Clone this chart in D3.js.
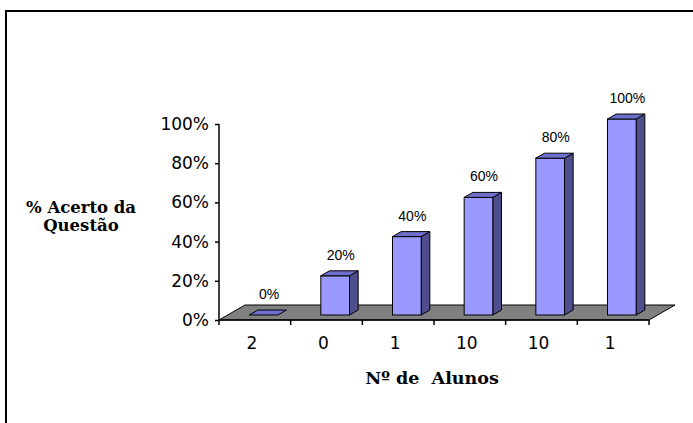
<!DOCTYPE html>
<html>
<head>
<meta charset="utf-8">
<script src="https://cdn.jsdelivr.net/npm/d3@7/dist/d3.min.js"></script>
<style>
  html, body { margin: 0; padding: 0; background: #fff; }
  svg { display: block; }
</style>
</head>
<body>
<svg id="chart" width="693" height="423"></svg>
<script>
// Question-hit rate per group of students
const categories = ["2", "0", "1", "10", "10", "1"];
const values = [0, 20, 40, 60, 80, 100];
const yTicks = [0, 20, 40, 60, 80, 100];
const yTitleLines = ["% Acerto da", "Questão"];
const xTitle = "Nº de  Alunos";

const W = 693, H = 423;
const svg = d3.select("#chart");

// Outer frame
svg.append("rect")
  .attr("x", 6).attr("y", 11).attr("width", 720).attr("height", 440)
  .attr("fill", "#fff").attr("stroke", "#000").attr("stroke-width", 2);

const x = d3.scaleBand().domain(d3.range(categories.length)).range([219, 649]).padding(0);
const y = d3.scaleLinear().domain([0, 100]).range([320, 124]);

// Depth of the 3D floor (oblique projection)
const DX = 26, DY = -15;
const barW = x.bandwidth() * 0.4;

// Floor
const x0 = x.range()[0], x1 = x.range()[1], yb = y(0);
svg.append("path")
  .attr("d", `M${x0},${yb}L${x1},${yb}L${x1 + DX},${yb + DY}L${x0 + DX},${yb + DY}Z`)
  .attr("fill", "#808080").attr("stroke", "#000").attr("stroke-width", 1);

// Bars sit in the middle third of the depth
const fdx = DX / 3, fdy = DY / 3;
const bars = svg.append("g");
categories.forEach((c, i) => {
  const v = values[i];
  const left = x(i) + x.bandwidth() / 2 - barW / 2 + fdx;
  const right = left + barW;
  const bottom = y(0) + fdy;
  const top = y(v) + fdy;
  const g = bars.append("g");
  if (v > 0) {
    // side face
    g.append("path")
      .attr("d", `M${right},${bottom}L${right + fdx},${bottom + fdy}L${right + fdx},${top + fdy}L${right},${top}Z`)
      .attr("fill", "#4e4e8c").attr("stroke", "#000").attr("stroke-width", 1);
    // front face
    g.append("rect")
      .attr("x", left).attr("y", top).attr("width", barW).attr("height", bottom - top)
      .attr("fill", "#9999ff").attr("stroke", "#000").attr("stroke-width", 1);
  }
  // top face
  g.append("path")
    .attr("d", `M${left},${top}L${right},${top}L${right + fdx},${top + fdy}L${left + fdx},${top + fdy}Z`)
    .attr("fill", "#6e6ecc").attr("stroke", "#000").attr("stroke-width", 1);
  // value label
  svg.append("text")
    .attr("x", left + barW / 2 + 5.5)
    .attr("y", top + fdy - 11)
    .attr("text-anchor", "middle")
    .attr("font-family", "Liberation Sans, Arial, sans-serif")
    .attr("font-size", 14)
    .attr("fill", "#000")
    .text(d3.format(".0%")(v / 100));
});

// Y axis
const yAxis = svg.append("g")
  .attr("transform", `translate(${x0},0)`)
  .call(d3.axisLeft(y).tickValues(yTicks).tickSize(4).tickPadding(6)
    .tickFormat(d => d + "%"));
yAxis.select(".domain").attr("stroke", "#000").attr("stroke-width", 1.5)
  .attr("d", `M0,${y(100)}V${y(0)}`);
yAxis.selectAll(".tick line").attr("stroke", "#000").attr("stroke-width", 1.5);
yAxis.selectAll(".tick text")
  .attr("font-family", "DejaVu Sans, Verdana, sans-serif")
  .attr("font-size", 17).attr("fill", "#000");

// X axis: line with ticks on category boundaries
const xAxis = svg.append("g");
xAxis.append("line")
  .attr("x1", x0).attr("x2", x1).attr("y1", yb).attr("y2", yb)
  .attr("stroke", "#000").attr("stroke-width", 1.5);
const bounds = d3.range(categories.length + 1).map(i => i < categories.length ? x(i) : x1);
xAxis.selectAll("line.tk").data(bounds).join("line")
  .attr("class", "tk")
  .attr("x1", d => d).attr("x2", d => d)
  .attr("y1", yb).attr("y2", yb + 5)
  .attr("stroke", "#000").attr("stroke-width", 1.5);
xAxis.selectAll("text").data(categories).join("text")
  .attr("x", (d, i) => x(i) + x.bandwidth() / 2 - 3)
  .attr("y", 349)
  .attr("text-anchor", "middle")
  .attr("font-family", "DejaVu Sans, Verdana, sans-serif")
  .attr("font-size", 17).attr("fill", "#000")
  .text(d => d);

// Axis titles
svg.append("text")
  .attr("x", 432).attr("y", 384)
  .attr("text-anchor", "middle")
  .attr("font-family", "DejaVu Serif, serif")
  .attr("font-weight", "bold")
  .attr("font-size", 17.5).attr("fill", "#000")
  .attr("xml:space", "preserve")
  .style("white-space", "pre")
  .text(xTitle);

svg.append("g").selectAll("text").data(yTitleLines).join("text")
  .attr("x", 81).attr("y", (d, i) => 213 + i * 18)
  .attr("text-anchor", "middle")
  .attr("font-family", "DejaVu Serif, serif")
  .attr("font-weight", "bold")
  .attr("font-size", 16.5).attr("fill", "#000")
  .text(d => d);
</script>
</body>
</html>
